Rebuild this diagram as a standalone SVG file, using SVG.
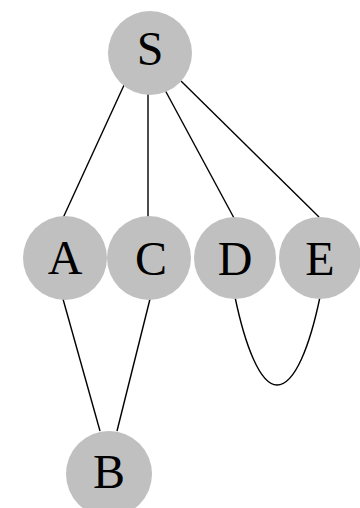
<svg xmlns="http://www.w3.org/2000/svg" width="360" height="508" viewBox="0 0 360 508">
<style>
.n{fill:#c0c0c0;stroke:none}
.t{font-family:"Liberation Serif","Times New Roman",serif;font-size:48px;fill:#000;text-anchor:middle}
.e{stroke:#000;stroke-width:1.4;fill:none}
</style>
<rect width="360" height="508" fill="#fff"/>
<g id="edges">
<line class="e" x1="125" y1="83" x2="63" y2="218"/>
<line class="e" x1="148" y1="90" x2="148" y2="218"/>
<line class="e" x1="165" y1="90" x2="234" y2="218"/>
<line class="e" x1="181" y1="81" x2="319" y2="217"/>
<line class="e" x1="63" y1="299" x2="100" y2="431"/>
<line class="e" x1="150" y1="299" x2="117" y2="431"/>
<path class="e" d="M235,297 C245,345 260,385 277,385 C295,385 310,345 320,297"/>
</g>
<g id="S"><circle class="n" cx="150" cy="53" r="42"/><text class="t" x="150" y="65">S</text></g>
<g id="A"><circle class="n" cx="65" cy="258" r="42"/><text class="t" x="65" y="274">A</text></g>
<g id="C"><circle class="n" cx="149" cy="258" r="42"/><text class="t" x="151" y="275">C</text></g>
<g id="D"><circle class="n" cx="235" cy="258" r="41"/><text class="t" x="235" y="275">D</text></g>
<g id="E"><circle class="n" cx="320" cy="258" r="41"/><text class="t" x="320" y="275">E</text></g>
<g id="B"><circle class="n" cx="109" cy="474" r="43"/><text class="t" x="109" y="488">B</text></g>
</svg>
